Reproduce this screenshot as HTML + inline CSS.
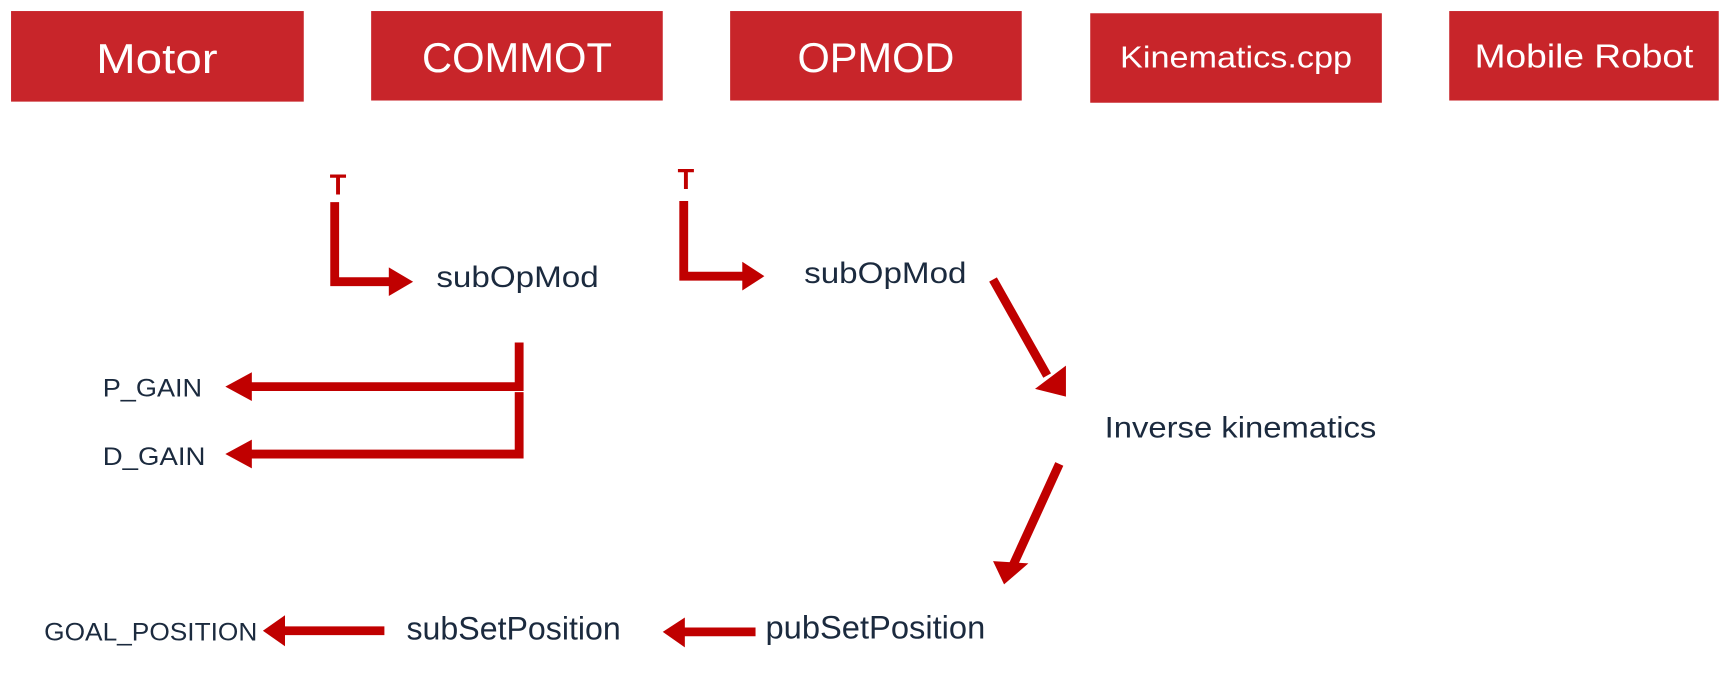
<!DOCTYPE html>
<html><head><meta charset="utf-8"><style>
html,body{margin:0;padding:0;background:#fff;}
svg{display:block}
</style></head><body>
<svg width="1732" height="686" viewBox="0 0 1568 621" preserveAspectRatio="none" xmlns="http://www.w3.org/2000/svg" font-family="Liberation Sans, sans-serif">
<g fill="#C8252A">
<rect x="10" y="10" width="265" height="82"/>
<rect x="336" y="10" width="264" height="81"/>
<rect x="661" y="10" width="264" height="81"/>
<rect x="987" y="12" width="264" height="81"/>
<rect x="1312" y="10" width="244" height="81"/>
</g>
<g fill="#fff" text-anchor="middle">
<text x="142" y="66" font-size="38" textLength="110" lengthAdjust="spacingAndGlyphs">Motor</text>
<text x="468" y="65" font-size="38" textLength="172" lengthAdjust="spacingAndGlyphs">COMMOT</text>
<text x="793" y="65" font-size="38" textLength="142" lengthAdjust="spacingAndGlyphs">OPMOD</text>
<text x="1119" y="61" font-size="28" textLength="210" lengthAdjust="spacingAndGlyphs">Kinematics.cpp</text>
<text x="1434" y="61" font-size="30" textLength="198" lengthAdjust="spacingAndGlyphs">Mobile Robot</text>
</g>
<g fill="#C00000" font-weight="bold" font-size="26" text-anchor="middle">
<text x="306" y="176" textLength="15" lengthAdjust="spacingAndGlyphs">T</text>
<text x="621" y="171" textLength="15" lengthAdjust="spacingAndGlyphs">T</text>
</g>
<g stroke="#C00000" stroke-width="8" fill="none">
<polyline points="303,183 303,255 355,255"/>
<polyline points="619,182 619,250 675,250"/>
<polyline points="470,310 470,350 225,350"/>
<polyline points="470,355 470,411 225,411"/>
<line x1="899" y1="253" x2="948" y2="340"/>
<line x1="959" y1="420" x2="917" y2="512"/>
<line x1="348" y1="571" x2="255" y2="571"/>
<line x1="684" y1="572" x2="618" y2="572"/>
</g>
<g fill="#C00000">
<polygon points="352,242 374,255 352,268"/>
<polygon points="672,237 692,250 672,263"/>
<polygon points="228,337 204,350 228,363"/>
<polygon points="228,398 204,411 228,424"/>
<polygon points="937,352 965,359 965,331"/>
<polygon points="899,508 909,529 931,510"/>
<polygon points="258,557 238,571 258,585"/>
<polygon points="620,559 600,572 620,586"/>
</g>
<g fill="#1B2A3E">
<text x="395" y="260" font-size="27" textLength="147" lengthAdjust="spacingAndGlyphs">subOpMod</text>
<text x="728" y="256" font-size="27" textLength="147" lengthAdjust="spacingAndGlyphs">subOpMod</text>
<text x="93" y="359" font-size="23" textLength="90" lengthAdjust="spacingAndGlyphs">P_GAIN</text>
<text x="93" y="421" font-size="23" textLength="93" lengthAdjust="spacingAndGlyphs">D_GAIN</text>
<text x="1000" y="396" font-size="27" textLength="246" lengthAdjust="spacingAndGlyphs">Inverse kinematics</text>
<text x="40" y="580" font-size="23" textLength="193" lengthAdjust="spacingAndGlyphs">GOAL_POSITION</text>
<text x="368" y="579" font-size="29" textLength="194" lengthAdjust="spacingAndGlyphs">subSetPosition</text>
<text x="693" y="578" font-size="29" textLength="199" lengthAdjust="spacingAndGlyphs">pubSetPosition</text>
</g>
</svg>
</body></html>
